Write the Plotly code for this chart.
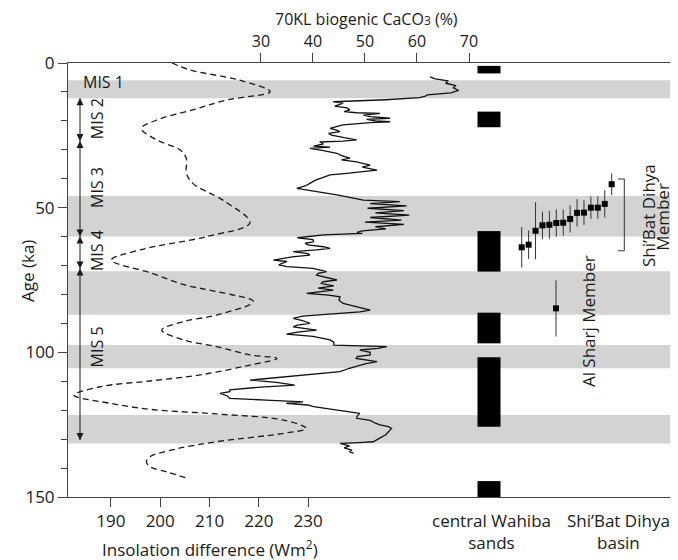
import plotly.graph_objects as go

# ---------------- data ----------------
# Insolation difference (W/m2) vs age (ka)
insol_age = [0, 2.4, 5.9, 9.9, 12.8, 16.2, 19.7, 22.6, 26.6, 30, 33, 38, 41.6, 47.4, 55.2, 60,
             64.6, 68.1, 72.5, 76.7, 79, 82.5, 87.1, 89.4, 92.3, 95.7, 98, 100.9, 102.1, 104.4,
             107.8, 109.9, 111.9, 114.8, 117.6, 119.7, 121.3, 123.4, 126.3, 128, 130.9, 133.5,
             136.1, 137.8, 139.5, 141.3, 143.3]
insol_val = [202.4, 206, 216, 222.3, 213.5, 206.6, 199.3, 196.2, 199.3, 204, 205.3, 205.3, 206.6,
             212.7, 218.2, 209.4, 195.9, 190.1, 198, 205, 211.4, 218.9, 211.4, 204.7, 200.3, 204.7,
             211.4, 218.2, 223.7, 218.2, 208.1, 197.9, 187.8, 182.5, 189.8, 198, 211.4, 225,
             229.6, 225, 211.4, 203, 197.9, 197.2, 197.9, 201.3, 205.1]

# 70KL biogenic CaCO3 (%) vs age (ka)
caco3_age = [4.8, 5.5, 6.2, 7.0, 7.8, 8.6, 9.5, 10.3, 11.0, 11.5, 12.0, 12.4, 12.7, 13.4, 13.9,
             14.9, 15.5, 16.2, 16.8, 17.2, 17.4, 18.0, 18.5, 19.1, 19.5, 20.0, 20.3, 20.6, 21.4,
             22.0, 22.6, 23.2, 23.7, 24.3, 24.9, 25.8, 26.6, 27.0, 27.3, 28.0, 28.7, 29.1, 29.5,
             30.3, 31.2, 32.0, 32.9, 33.5, 34.2, 35.3, 36.0, 37.0, 37.6, 38.2, 38.7, 39.5, 40.5,
             41.6, 42.5, 43.3, 44.0, 44.5, 45.0, 45.6, 46.5, 47.4, 47.9, 48.6, 49.4, 50.2, 51.0,
             51.8, 52.6, 53.4, 54.3, 55.0, 55.8, 56.6, 57.3, 58.0, 58.5, 58.9, 59.4,
             60.0, 60.4, 61.0, 61.8, 62.3, 62.9, 63.5, 64.1, 64.6, 65.2, 65.9, 66.4, 67.0, 67.5,
             68.1, 68.6, 69.2, 69.8, 70.4, 71.0, 72.1, 72.7, 73.3, 74.2, 75.0, 75.6, 76.2, 77.0,
             77.8, 78.5, 79.0, 79.6, 80.2, 80.8, 82.0, 83.1, 84.3, 85.4, 86.0, 86.8, 87.5, 88.3,
             89.0, 90.0, 90.6, 91.2, 92.3, 93.0, 93.7, 94.5, 95.7, 96.5, 97.5, 98.0, 98.6, 99.2,
             100.0, 100.9, 101.5, 102.1, 102.7, 103.2, 104.0, 105.5, 106.7, 108.0, 109.6, 110.4,
             111.3, 112.0, 113.0, 113.6, 114.2, 115.0, 115.9, 116.5, 117.1, 117.6, 118.2, 118.8,
             119.5, 120.3, 121.1, 122.0, 122.8, 123.5, 124.5, 125.1, 125.7, 126.3, 127.0, 127.4,
             128.5, 129.5, 130.3, 130.9, 131.2, 131.5, 132.3, 133.0, 133.8, 134.3, 134.9]
caco3_val = [62.5, 63.5, 66, 65.5, 67.5, 67, 68, 66.5, 62, 61.5, 60.5, 57, 54, 43.9, 45.8,
             44.2, 46.5, 47.1, 46, 48.4, 52.9, 49.7, 51, 54.8, 50.3, 52, 54.8, 51, 45.8,
             44.5, 43.3, 44.5, 45.2, 43, 43.6, 46, 48.4, 45.8, 41.3, 42, 40.1, 43.3, 39.4,
             42, 44.6, 45.5, 47.1, 45.5, 48.4, 51, 49.5, 52.3, 49.7, 46, 43.3, 42, 40.5,
             39.4, 38.5, 36.9, 39, 40.7, 42.5, 44.6, 47.5, 49.7, 56.7, 51, 58, 50.5, 57.5,
             52, 58.5, 51, 57, 50, 57.5, 52, 54, 49.5, 48.5, 49.5, 42,
             38.1, 37, 40, 40.1, 38.5, 39, 42, 43.3, 40.7, 36.2, 39, 39.4, 36, 34.3,
             32.4, 35, 34, 33.4, 35, 40, 42.6, 41, 40.7, 43, 44.6, 42, 41.5, 44,
             41, 43.9, 42, 38.8, 43, 45.2, 45, 45.8, 48.5, 51, 49, 43, 38, 36.2,
             38, 39.4, 37, 36.2, 40.7, 37, 34.9, 40, 43.3, 44, 44, 54.2, 52.5, 49,
             51, 51, 48.5, 48.3, 51, 52.3, 50, 47, 45.2, 38, 27.9, 33,
             36.5, 30, 24, 24, 22.1, 23.5, 24, 31, 38.1, 34.9, 39, 40.1,
             43, 45.5, 49, 48.5, 48.4, 51, 52, 52.9, 54.5, 55.1, 54.7, 54.5,
             54, 53, 52, 51.6, 49, 45.2, 47, 46, 47.5, 47, 47.8]

# grey interval bands (ka)
band_start = [6, 46, 72, 97.5, 121.7]
band_end = [12.2, 60, 87, 105.5, 131.5]

# central Wahiba sands - aeolian accumulation periods (ka)
wahiba_start = [1.0, 16.8, 58.1, 86.3, 101.7, 144.5]
wahiba_end = [3.6, 22.2, 72.1, 96.9, 125.7, 150]

# Shi'Bat Dihya basin - OSL ages (ka) and errors
sbd_age = [63.7, 62.8, 58.0, 56.1, 55.9, 55.3, 55.2, 53.9, 51.8, 51.7, 50.0, 50.0, 48.7, 41.9]
sbd_err = [7.0, 4.9, 9.9, 4.7, 4.8, 4.7, 4.5, 4.7, 4.7, 4.3, 3.9, 3.9, 4.7, 3.7]
alsharj_age = [84.8]
alsharj_err = [9.7]
sbd_member_range = [40.1, 64.9]

# Marine isotope stages
mis_names = ["MIS 2", "MIS 3", "MIS 4", "MIS 5"]
mis_start = [12.2, 27, 60, 71]
mis_end = [27, 60, 71, 130.3]

bottom_ticks = [190, 200, 210, 220, 230]
top_ticks = [30, 40, 50, 60, 70]
age_ticks = [0, 50, 100, 150]
age_minor = [10, 20, 30, 40, 60, 70, 80, 90, 110, 120, 130, 140]

# ---------------- layout helpers ----------------
# page is rendered with an 8px body margin -> figure origin at (8, 8)
OFF = 8
L, R, T, B = 68, 676, 63, 497          # plot area in page pixels
FIG_W, FIG_H = 678 - OFF, 560 - OFF


def xp(px):
    return (px - L) / (R - L)


def yp(py):
    return (B - py) / (B - T)


FONT = "Open Sans"
TXT = "#1a1a1a"
FS = 17

fig = go.Figure()

# insolation (dashed)
fig.add_trace(go.Scatter(x=insol_val, y=insol_age, mode="lines", xaxis="x", yaxis="y",
                         line=dict(color="#1a1a1a", width=1.3, dash="6px,4px",
                                   shape="spline", smoothing=1.0),
                         hoverinfo="skip"))
# CaCO3
fig.add_trace(go.Scatter(x=caco3_val, y=caco3_age, mode="lines", xaxis="x2", yaxis="y",
                         line=dict(color="#111111", width=1.3), hoverinfo="skip"))

# Wahiba sands bars
wx = xp(489)
fig.add_trace(go.Bar(x=[wx] * len(wahiba_start),
                     y=[e - s for s, e in zip(wahiba_start, wahiba_end)],
                     base=wahiba_start, width=23 / (R - L),
                     marker=dict(color="black", line=dict(width=0)),
                     xaxis="x3", yaxis="y", hoverinfo="skip"))

# Shi'Bat Dihya OSL ages
x0 = xp(521.7)
step = 6.92 / (R - L)
sbd_x = [x0 + i * step for i in range(len(sbd_age))]
fig.add_trace(go.Scatter(x=sbd_x, y=sbd_age, mode="markers", xaxis="x3", yaxis="y",
                         marker=dict(symbol="square", size=6, color="black"),
                         error_y=dict(type="data", array=sbd_err, visible=True,
                                      thickness=1, width=0, color="#333"),
                         hoverinfo="skip"))
fig.add_trace(go.Scatter(x=[xp(556)], y=alsharj_age, mode="markers", xaxis="x3", yaxis="y",
                         marker=dict(symbol="square", size=6, color="black"),
                         error_y=dict(type="data", array=alsharj_err, visible=True,
                                      thickness=1, width=0, color="#333"),
                         hoverinfo="skip"))
# bracket for Shi'Bat Dihya Member
bx1, bx2 = xp(618), xp(624.3)
fig.add_trace(go.Scatter(x=[bx1, bx2, bx2, bx1],
                         y=[sbd_member_range[0], sbd_member_range[0],
                            sbd_member_range[1], sbd_member_range[1]],
                         mode="lines", xaxis="x3", yaxis="y",
                         line=dict(color="#333", width=1), hoverinfo="skip"))

# MIS double-headed arrows
ax_x = xp(80)
for s, e in zip(mis_start, mis_end):
    fig.add_trace(go.Scatter(x=[ax_x, ax_x], y=[s, e], mode="lines+markers",
                             xaxis="x3", yaxis="y",
                             line=dict(color="#1a1a1a", width=1),
                             marker=dict(symbol=["arrow-up", "arrow-down"], size=7,
                                         color="#1a1a1a", line=dict(width=0)),
                             hoverinfo="skip"))

shapes = []
for s, e in zip(band_start, band_end):
    shapes.append(dict(type="rect", xref="paper", x0=0, x1=1, yref="y", y0=s, y1=e,
                       fillcolor="#d3d3d3", line=dict(width=0), layer="below"))


def label(x, y, text, xref="paper", yref="paper", angle=0, size=FS, xanchor="center"):
    return dict(x=x, y=y, xref=xref, yref=yref, text=text, showarrow=False,
                textangle=angle, xanchor=xanchor, yanchor="middle", borderpad=0,
                font=dict(family=FONT, size=size, color=TXT))


annotations = []
mis_label_y = [19.4, 43.2, 65.0, 98.3]
for name, yy in zip(mis_names, mis_label_y):
    annotations.append(label(xp(97), yy, name, yref="y", angle=-90, size=16))
annotations.append(label(xp(82), 6.4, "MIS 1", yref="y", size=16, xanchor="left"))

annotations += [
    label(xp(366), yp(18.8), "70KL biogenic CaCO<span style='font-size:12px'>3</span> (%)",
          size=16),
    label(xp(210), yp(548), "Insolation difference (Wm<sup>2</sup>)"),
    label(xp(492), yp(531), "central Wahiba<br>sands"),
    label(xp(618), yp(531), "Shi\u2019Bat Dihya<br>basin"),
    label(xp(27), yp(271), "Age (ka)", angle=-90),
    label(xp(588), 89.2, "Al Sharj Member", yref="y", angle=-90),
    label(xp(648), 52.9, "Shi\u2019Bat Dihya", yref="y", angle=-90),
    label(xp(663), 53.1, "Member", yref="y", angle=-90),
]

axis_common = dict(showgrid=False, zeroline=False, showline=True, linecolor="#444",
                   linewidth=1, ticks="outside", tickcolor="#444", tickwidth=1)
tickfont = dict(family=FONT, size=FS, color=TXT)

fig.update_layout(
    width=FIG_W, height=FIG_H,
    margin=dict(l=L - OFF, r=FIG_W - (R - OFF), t=T - OFF, b=FIG_H - (B - OFF), pad=0),
    paper_bgcolor="white", plot_bgcolor="white",
    showlegend=False, barmode="overlay",
    xaxis=dict(range=[181.3, 304.6], tickmode="array", tickvals=bottom_ticks, ticklen=9,
               tickfont=tickfont, **axis_common),
    xaxis2=dict(range=[-7.1, 109.8], overlaying="x", side="top", tickmode="array",
                tickvals=top_ticks, ticklen=9, tickfont=dict(family=FONT, size=16, color=TXT),
                **axis_common),
    xaxis3=dict(range=[0, 1], overlaying="x", visible=False),
    yaxis=dict(range=[150, 0], tickmode="array", tickvals=age_ticks, ticklen=9, mirror=True,
               tickfont=tickfont,
               minor=dict(tickmode="array", tickvals=age_minor, ticks="outside", ticklen=6,
                          tickcolor="#444", showgrid=False),
               **axis_common),
    shapes=shapes,
    annotations=annotations,
)

fig.write_html("out.html")
